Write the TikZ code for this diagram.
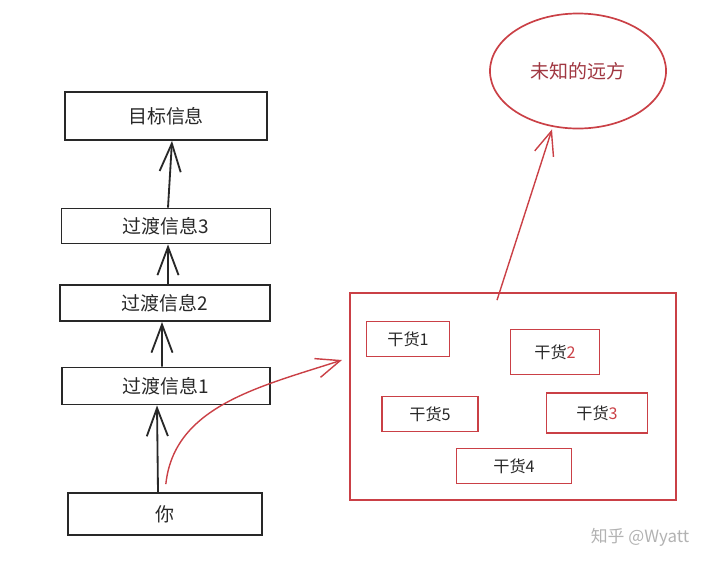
\documentclass[tikz,border=0pt]{standalone}
\usepackage{fontspec}
\setmainfont{Noto Sans CJK SC}
\usepackage{xcolor}
\usetikzlibrary{shapes,arrows.meta,positioning}
\definecolor{sketchred}{RGB}{202,64,70}
\definecolor{darkred}{RGB}{160,55,65}
\definecolor{inkgray}{RGB}{40,40,40}
\tikzstyle{infobox} = [rectangle, draw=inkgray, line width=1.3pt, text=inkgray, minimum width=5.2cm, minimum height=0.9cm, font=\fontsize{13.5}{16}\selectfont]
\tikzstyle{goodsbox} = [rectangle, draw=sketchred, line width=1pt, text=inkgray, minimum height=0.875cm, font=\fontsize{11.5}{13}\selectfont]
\tikzstyle{uparrow} = [-{Straight Barb[length=20pt,width=15pt]}, line width=1.3pt, draw=inkgray]
\tikzstyle{redarrow} = [-{Straight Barb[length=17pt,width=14pt]}, line width=1pt, draw=sketchred]

\begin{document}
\begin{tikzpicture}[x=0.025cm, y=-0.025cm]
    \useasboundingbox (0,0) rectangle (720,567);

    % Left column
    \node[infobox, minimum width=5.03cm, minimum height=1.2cm] (goal) at (166,116) {目标信息};
    \node[infobox, minimum width=5.22cm, minimum height=0.875cm] (trans3) at (166,226) {过渡信息3};
    \node[infobox, minimum width=5.25cm] (trans2) at (165,303) {过渡信息2};
    \node[infobox, minimum width=5.2cm, minimum height=0.925cm] (trans1) at (166,386) {过渡信息1};
    \node[infobox, minimum width=4.85cm, minimum height=1.05cm] (you) at (165,514) {你};

    % Red box with goods
    \node[rectangle, draw=sketchred, line width=1.2pt, minimum width=8.15cm, minimum height=5.175cm] (goods) at (513,396.5) {};
    \node[goodsbox, minimum width=2.075cm] (g1) at (408,339) {干货1};
    \node[goodsbox, minimum width=2.225cm, minimum height=1.125cm] (g2) at (555,352) {干货\textcolor{sketchred}{2}};
    \node[goodsbox, minimum width=2.4cm] (g5) at (430,414) {干货5};
    \node[goodsbox, minimum width=2.525cm, minimum height=1cm] (g3) at (597,413) {干货\textcolor{sketchred}{3}};
    \node[goodsbox, minimum width=2.875cm] (g4) at (514,466) {干货4};

    % Far away
    \node[ellipse, draw=sketchred, line width=1.2pt, text=darkred, minimum width=4.4cm, minimum height=2.875cm, font=\fontsize{13.5}{16}\selectfont] (far) at (578,71) {未知的远方};

    % Watermark
    \node[text=black!30, font=\fontsize{12}{14}\selectfont] (mark) at (640,537) {知乎 @Wyatt};

    % Arrows
    \draw[uparrow] ([xshift=-0.175cm]you.north) -- ([xshift=-0.225cm]trans1.south);
    \draw[uparrow] ([xshift=-0.1cm]trans1.north) -- ([xshift=-0.075cm]trans2.south);
    \draw[uparrow] ([xshift=0.075cm]trans2.north) -- ([xshift=0.05cm]trans3.south);
    \draw[uparrow] ([xshift=0.05cm]trans3.north) -- ([xshift=0.15cm]goal.south);

    \coordinate (aim) at (342,360);
    \draw[redarrow, shorten <=0.2cm] (you.north) to[out=84,in=198] (aim);
    \draw[redarrow] ([xshift=-0.4cm,yshift=-0.2cm]goods.north) -- ([xshift=-0.65cm]far.south);
\end{tikzpicture}
\end{document}
